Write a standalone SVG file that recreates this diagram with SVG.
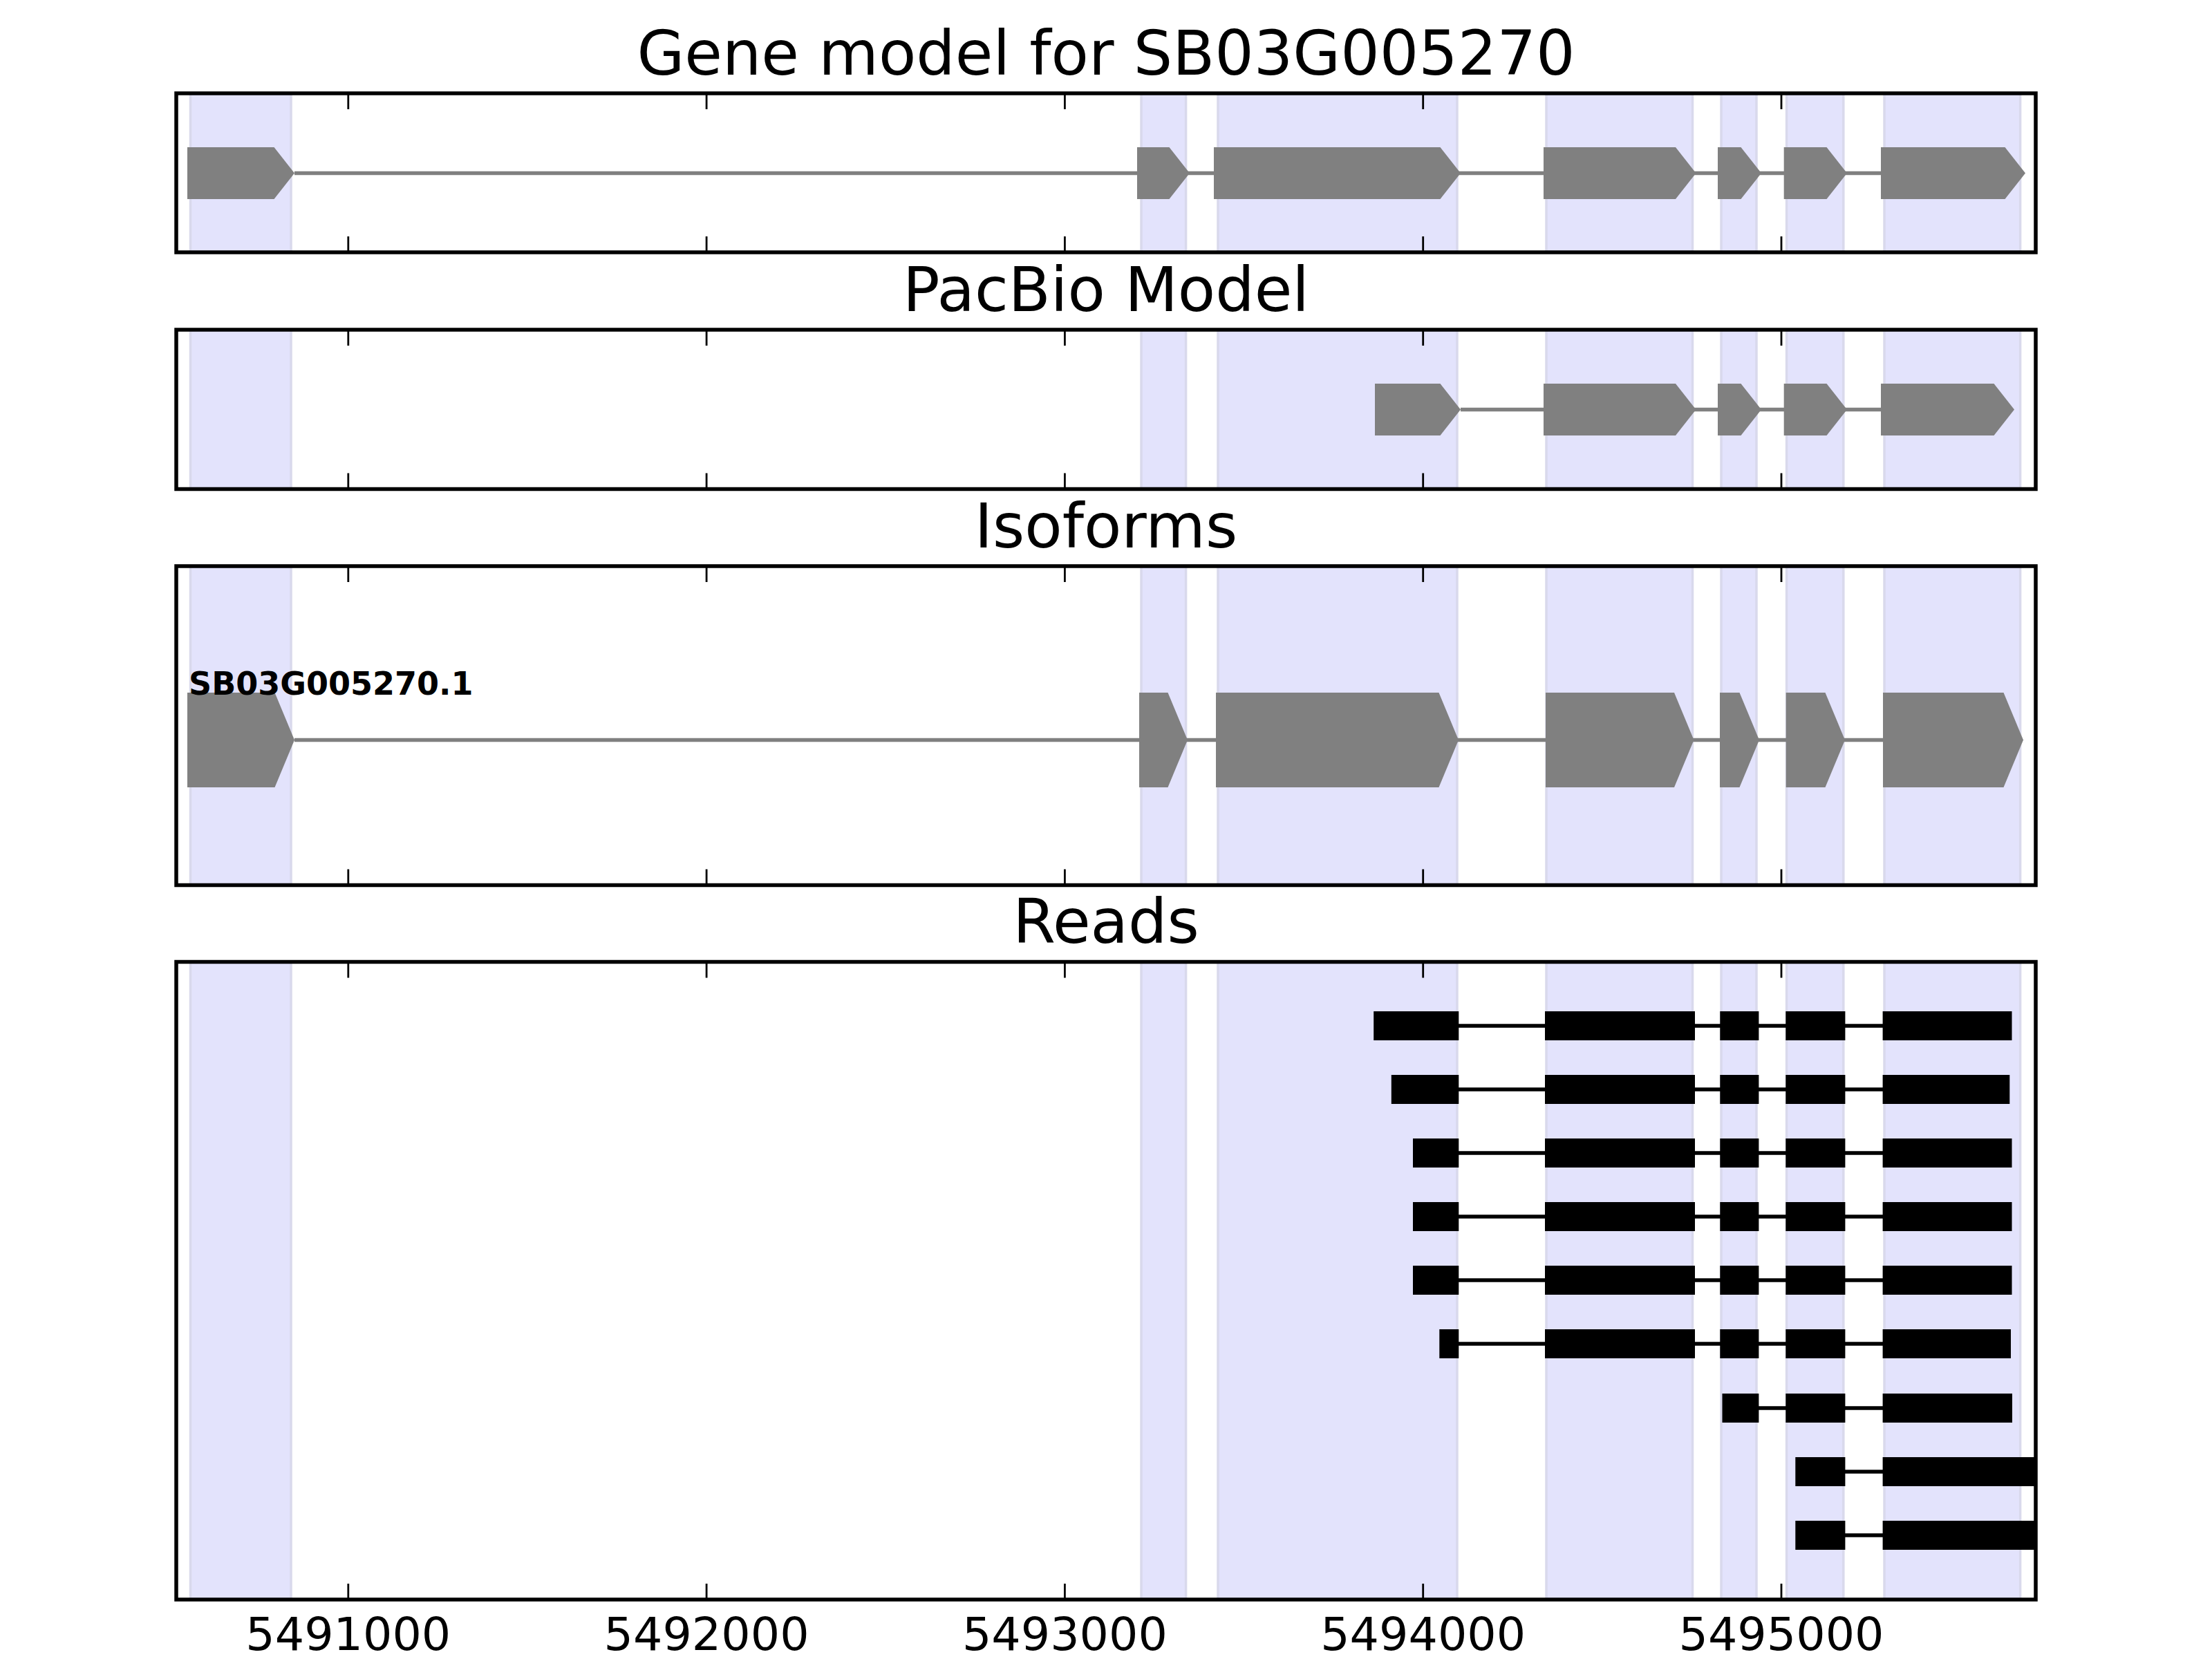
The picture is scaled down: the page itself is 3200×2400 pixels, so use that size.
<svg xmlns="http://www.w3.org/2000/svg" xmlns:xlink="http://www.w3.org/1999/xlink" width="3200" height="2400" viewBox="0 0 3200 2400">
<style>
  .title{font-family:"DejaVu Sans",sans-serif;font-size:88.9px;fill:#000;text-anchor:middle}
  .tick{font-family:"DejaVu Sans",sans-serif;font-size:66.7px;fill:#000;text-anchor:middle}
  .lab{font-family:"DejaVu Sans",sans-serif;font-size:46px;font-weight:bold;fill:#000}
  .stripe{fill:#e3e3fc;stroke:#d9d9ec;stroke-width:3.5}
  .spine{fill:none;stroke:#000;stroke-width:5.5}
  .tk{stroke:#000;stroke-width:2.8}
  .gene{fill:#808080}
  .gline{stroke:#808080;stroke-width:5.5}
  .read{fill:#000}
  .rline{stroke:#000;stroke-width:5.3}
</style>
<rect width="3200" height="2400" fill="#fff"/>

<!-- Panel 1: Gene model -->
<g id="panel-gene-model">
  <text class="title" x="1600" y="108">Gene model for SB03G005270</text>
  <g id="stripes-1">
    <rect class="stripe" x="275.5" y="135" width="145.5" height="230"/>
    <rect class="stripe" x="1651" y="135" width="64.6" height="230"/>
    <rect class="stripe" x="1762" y="135" width="346" height="230"/>
    <rect class="stripe" x="2237" y="135" width="211.5" height="230"/>
    <rect class="stripe" x="2490" y="135" width="51" height="230"/>
    <rect class="stripe" x="2584.6" y="135" width="82.2" height="230"/>
    <rect class="stripe" x="2726" y="135" width="196.6" height="230"/>
  </g>
  <g id="gm-connectors">
    <line class="gline" x1="426" y1="250.5" x2="2721" y2="250.5"/>
  </g>
  <g id="gm-exons">
    <polygon class="gene" points="271,213 396.5,213 426,250.5 396.5,288 271,288"/>
    <polygon class="gene" points="1645,213 1691.5,213 1721,250.5 1691.5,288 1645,288"/>
    <polygon class="gene" points="1756,213 2083.5,213 2113,250.5 2083.5,288 1756,288"/>
    <polygon class="gene" points="2233,213 2424,213 2453.5,250.5 2424,288 2233,288"/>
    <polygon class="gene" points="2485,213 2518.5,213 2548,250.5 2518.5,288 2485,288"/>
    <polygon class="gene" points="2580.7,213 2642.5,213 2672,250.5 2642.5,288 2580.7,288"/>
    <polygon class="gene" points="2721,213 2900.5,213 2930,250.5 2900.5,288 2721,288"/>
  </g>
  <rect class="spine" x="255" y="135" width="2690" height="230"/>
  <g id="ticks-1">
    <line class="tk" x1="503.8" y1="137" x2="503.8" y2="158"/><line class="tk" x1="503.8" y1="342" x2="503.8" y2="363"/>
    <line class="tk" x1="1022.1" y1="137" x2="1022.1" y2="158"/><line class="tk" x1="1022.1" y1="342" x2="1022.1" y2="363"/>
    <line class="tk" x1="1540.4" y1="137" x2="1540.4" y2="158"/><line class="tk" x1="1540.4" y1="342" x2="1540.4" y2="363"/>
    <line class="tk" x1="2058.7" y1="137" x2="2058.7" y2="158"/><line class="tk" x1="2058.7" y1="342" x2="2058.7" y2="363"/>
    <line class="tk" x1="2577" y1="137" x2="2577" y2="158"/><line class="tk" x1="2577" y1="342" x2="2577" y2="363"/>
  </g>
</g>

<!-- Panel 2: PacBio Model -->
<g id="panel-pacbio">
  <text class="title" x="1600" y="450">PacBio Model</text>
  <g id="stripes-2">
    <rect class="stripe" x="275.5" y="477" width="145.5" height="230.5"/>
    <rect class="stripe" x="1651" y="477" width="64.6" height="230.5"/>
    <rect class="stripe" x="1762" y="477" width="346" height="230.5"/>
    <rect class="stripe" x="2237" y="477" width="211.5" height="230.5"/>
    <rect class="stripe" x="2490" y="477" width="51" height="230.5"/>
    <rect class="stripe" x="2584.6" y="477" width="82.2" height="230.5"/>
    <rect class="stripe" x="2726" y="477" width="196.6" height="230.5"/>
  </g>
  <g id="pb-connectors">
    <line class="gline" x1="2113" y1="592.5" x2="2721" y2="592.5"/>
  </g>
  <g id="pb-exons">
    <polygon class="gene" points="1989,555 2083.5,555 2113,592.5 2083.5,630 1989,630"/>
    <polygon class="gene" points="2233,555 2424,555 2453.5,592.5 2424,630 2233,630"/>
    <polygon class="gene" points="2485,555 2518.5,555 2548,592.5 2518.5,630 2485,630"/>
    <polygon class="gene" points="2580.7,555 2642.5,555 2672,592.5 2642.5,630 2580.7,630"/>
    <polygon class="gene" points="2721,555 2884.5,555 2914,592.5 2884.5,630 2721,630"/>
  </g>
  <rect class="spine" x="255" y="477" width="2690" height="230.5"/>
  <g id="ticks-2">
    <line class="tk" x1="503.8" y1="479" x2="503.8" y2="500"/><line class="tk" x1="503.8" y1="684.5" x2="503.8" y2="705.5"/>
    <line class="tk" x1="1022.1" y1="479" x2="1022.1" y2="500"/><line class="tk" x1="1022.1" y1="684.5" x2="1022.1" y2="705.5"/>
    <line class="tk" x1="1540.4" y1="479" x2="1540.4" y2="500"/><line class="tk" x1="1540.4" y1="684.5" x2="1540.4" y2="705.5"/>
    <line class="tk" x1="2058.7" y1="479" x2="2058.7" y2="500"/><line class="tk" x1="2058.7" y1="684.5" x2="2058.7" y2="705.5"/>
    <line class="tk" x1="2577" y1="479" x2="2577" y2="500"/><line class="tk" x1="2577" y1="684.5" x2="2577" y2="705.5"/>
  </g>
</g>

<!-- Panel 3: Isoforms -->
<g id="panel-isoforms">
  <text class="title" x="1600" y="792">Isoforms</text>
  <g id="stripes-3">
    <rect class="stripe" x="275.5" y="819" width="145.5" height="461.5"/>
    <rect class="stripe" x="1651" y="819" width="64.6" height="461.5"/>
    <rect class="stripe" x="1762" y="819" width="346" height="461.5"/>
    <rect class="stripe" x="2237" y="819" width="211.5" height="461.5"/>
    <rect class="stripe" x="2490" y="819" width="51" height="461.5"/>
    <rect class="stripe" x="2584.6" y="819" width="82.2" height="461.5"/>
    <rect class="stripe" x="2726" y="819" width="196.6" height="461.5"/>
  </g>
  <g id="iso-connectors">
    <line class="gline" x1="426" y1="1070.5" x2="2724" y2="1070.5"/>
  </g>
  <g id="iso-exons">
    <polygon class="gene" points="271,1002 397.5,1002 426,1070.5 397.5,1139 271,1139"/>
    <polygon class="gene" points="1648,1002 1689.5,1002 1718,1070.5 1689.5,1139 1648,1139"/>
    <polygon class="gene" points="1759,1002 2081.5,1002 2110,1070.5 2081.5,1139 1759,1139"/>
    <polygon class="gene" points="2236,1002 2422,1002 2450.5,1070.5 2422,1139 2236,1139"/>
    <polygon class="gene" points="2488,1002 2516.5,1002 2545,1070.5 2516.5,1139 2488,1139"/>
    <polygon class="gene" points="2583.7,1002 2640.5,1002 2669,1070.5 2640.5,1139 2583.7,1139"/>
    <polygon class="gene" points="2724,1002 2898.5,1002 2927,1070.5 2898.5,1139 2724,1139"/>
  </g>
  <text class="lab" x="273" y="1005">SB03G005270.1</text>
  <rect class="spine" x="255" y="819" width="2690" height="461.5"/>
  <g id="ticks-3">
    <line class="tk" x1="503.8" y1="821" x2="503.8" y2="842"/><line class="tk" x1="503.8" y1="1257.5" x2="503.8" y2="1278.5"/>
    <line class="tk" x1="1022.1" y1="821" x2="1022.1" y2="842"/><line class="tk" x1="1022.1" y1="1257.5" x2="1022.1" y2="1278.5"/>
    <line class="tk" x1="1540.4" y1="821" x2="1540.4" y2="842"/><line class="tk" x1="1540.4" y1="1257.5" x2="1540.4" y2="1278.5"/>
    <line class="tk" x1="2058.7" y1="821" x2="2058.7" y2="842"/><line class="tk" x1="2058.7" y1="1257.5" x2="2058.7" y2="1278.5"/>
    <line class="tk" x1="2577" y1="821" x2="2577" y2="842"/><line class="tk" x1="2577" y1="1257.5" x2="2577" y2="1278.5"/>
  </g>
</g>

<!-- Panel 4: Reads -->
<g id="panel-reads">
  <text class="title" x="1600" y="1364">Reads</text>
  <g id="stripes-4">
    <rect class="stripe" x="275.5" y="1391.5" width="145.5" height="922.5"/>
    <rect class="stripe" x="1651" y="1391.5" width="64.6" height="922.5"/>
    <rect class="stripe" x="1762" y="1391.5" width="346" height="922.5"/>
    <rect class="stripe" x="2237" y="1391.5" width="211.5" height="922.5"/>
    <rect class="stripe" x="2490" y="1391.5" width="51" height="922.5"/>
    <rect class="stripe" x="2584.6" y="1391.5" width="82.2" height="922.5"/>
    <rect class="stripe" x="2726" y="1391.5" width="196.6" height="922.5"/>
  </g>
  <g id="read-connectors">
    <line class="rline" x1="2110" y1="1484" x2="2724" y2="1484"/>
    <line class="rline" x1="2110" y1="1576" x2="2724" y2="1576"/>
    <line class="rline" x1="2110" y1="1668" x2="2724" y2="1668"/>
    <line class="rline" x1="2110" y1="1760" x2="2724" y2="1760"/>
    <line class="rline" x1="2110" y1="1852" x2="2724" y2="1852"/>
    <line class="rline" x1="2110" y1="1944" x2="2724" y2="1944"/>
    <line class="rline" x1="2544" y1="2037" x2="2724" y2="2037"/>
    <line class="rline" x1="2669" y1="2129" x2="2724" y2="2129"/>
    <line class="rline" x1="2669" y1="2221" x2="2724" y2="2221"/>
  </g>
  <g id="read-1">
    <rect class="read" x="1987.2" y="1463" width="123.1" height="42"/>
    <rect class="read" x="2235" y="1463" width="217" height="42"/>
    <rect class="read" x="2488.3" y="1463" width="56.1" height="42"/>
    <rect class="read" x="2583.3" y="1463" width="86.1" height="42"/>
    <rect class="read" x="2723.6" y="1463" width="186.9" height="42"/>
  </g>
  <g id="read-2">
    <rect class="read" x="2012.8" y="1555" width="97.5" height="42"/>
    <rect class="read" x="2235" y="1555" width="217" height="42"/>
    <rect class="read" x="2488.3" y="1555" width="56.1" height="42"/>
    <rect class="read" x="2583.3" y="1555" width="86.1" height="42"/>
    <rect class="read" x="2723.6" y="1555" width="183.7" height="42"/>
  </g>
  <g id="read-3">
    <rect class="read" x="2044" y="1647" width="66.3" height="42"/>
    <rect class="read" x="2235" y="1647" width="217" height="42"/>
    <rect class="read" x="2488.3" y="1647" width="56.1" height="42"/>
    <rect class="read" x="2583.3" y="1647" width="86.1" height="42"/>
    <rect class="read" x="2723.6" y="1647" width="186.9" height="42"/>
  </g>
  <g id="read-4">
    <rect class="read" x="2044" y="1739" width="66.3" height="42"/>
    <rect class="read" x="2235" y="1739" width="217" height="42"/>
    <rect class="read" x="2488.3" y="1739" width="56.1" height="42"/>
    <rect class="read" x="2583.3" y="1739" width="86.1" height="42"/>
    <rect class="read" x="2723.6" y="1739" width="186.9" height="42"/>
  </g>
  <g id="read-5">
    <rect class="read" x="2044" y="1831" width="66.3" height="42"/>
    <rect class="read" x="2235" y="1831" width="217" height="42"/>
    <rect class="read" x="2488.3" y="1831" width="56.1" height="42"/>
    <rect class="read" x="2583.3" y="1831" width="86.1" height="42"/>
    <rect class="read" x="2723.6" y="1831" width="186.9" height="42"/>
  </g>
  <g id="read-6">
    <rect class="read" x="2082.3" y="1923" width="28" height="42"/>
    <rect class="read" x="2235" y="1923" width="217" height="42"/>
    <rect class="read" x="2488.3" y="1923" width="56.1" height="42"/>
    <rect class="read" x="2583.3" y="1923" width="86.1" height="42"/>
    <rect class="read" x="2723.6" y="1923" width="185.4" height="42"/>
  </g>
  <g id="read-7">
    <rect class="read" x="2491.5" y="2016" width="52.9" height="42"/>
    <rect class="read" x="2583.3" y="2016" width="86.1" height="42"/>
    <rect class="read" x="2723.6" y="2016" width="187.4" height="42"/>
  </g>
  <g id="read-8">
    <rect class="read" x="2597.3" y="2108" width="72.1" height="42"/>
    <rect class="read" x="2723.6" y="2108" width="219.4" height="42"/>
  </g>
  <g id="read-9">
    <rect class="read" x="2597.3" y="2200" width="72.1" height="42"/>
    <rect class="read" x="2723.6" y="2200" width="219.4" height="42"/>
  </g>
  <rect class="spine" x="255" y="1391.5" width="2690" height="922.5"/>
  <g id="ticks-4">
    <line class="tk" x1="503.8" y1="1393.5" x2="503.8" y2="1414.5"/><line class="tk" x1="503.8" y1="2291" x2="503.8" y2="2312"/>
    <line class="tk" x1="1022.1" y1="1393.5" x2="1022.1" y2="1414.5"/><line class="tk" x1="1022.1" y1="2291" x2="1022.1" y2="2312"/>
    <line class="tk" x1="1540.4" y1="1393.5" x2="1540.4" y2="1414.5"/><line class="tk" x1="1540.4" y1="2291" x2="1540.4" y2="2312"/>
    <line class="tk" x1="2058.7" y1="1393.5" x2="2058.7" y2="1414.5"/><line class="tk" x1="2058.7" y1="2291" x2="2058.7" y2="2312"/>
    <line class="tk" x1="2577" y1="1393.5" x2="2577" y2="1414.5"/><line class="tk" x1="2577" y1="2291" x2="2577" y2="2312"/>
  </g>
  <g id="tick-labels">
    <text class="tick" x="503.8" y="2387">5491000</text>
    <text class="tick" x="1022.1" y="2387">5492000</text>
    <text class="tick" x="1540.4" y="2387">5493000</text>
    <text class="tick" x="2058.7" y="2387">5494000</text>
    <text class="tick" x="2577" y="2387">5495000</text>
  </g>
</g>
</svg>
